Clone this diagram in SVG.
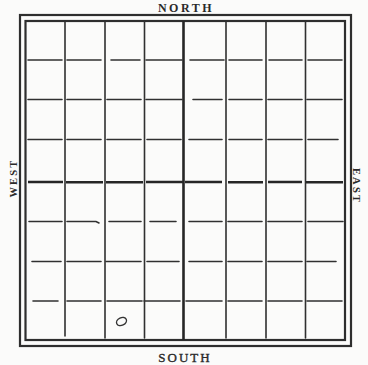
<svg xmlns="http://www.w3.org/2000/svg" width="368" height="365" viewBox="0 0 368 365">
<style>
.bg{fill:#fbfbfa}
.frame{fill:none;stroke:#2e2e2e;stroke-width:2.2}
.grid{stroke:#303030;stroke-width:1.6;stroke-linecap:round;fill:none}
.thick{stroke:#262626;stroke-width:2.6;fill:none}
.lbl{font-family:"Liberation Serif","DejaVu Serif",serif;fill:#2a2a2a}
.mark{fill:none;stroke:#333;stroke-width:1.4}
</style>
<rect class="bg" x="0" y="0" width="368" height="365"/>
<g id="board">
<rect class="frame" x="20" y="15" width="331" height="331"/>
<rect class="frame" x="25.5" y="21" width="319.5" height="319"/>
</g>
<g id="grid">
<path class="grid" d="M65 22V336M105 22V338M144.5 22V338M226 22V338M266 22V338M305.5 22V338"/>
<path class="thick" d="M183.5 21V340"/>
<path class="thick" d="M28 182H63M66 182.3H103M106 182.2H143M146 182H183M185 182H222M228 182.2H263M268 182H302M306 182.3H343"/>
<path class="grid" d="M28 60H62M67 60H101M111 60H140M146 60H182M190 60H224M229 60H262M269 60H302M308 60H342"/>
<path class="grid" d="M28 99.5H62M67 99.5H101M107 99.5H141M146 99.5H182M193 99.5H222M229 99.5H262M268 99.5H302M307 99.5H342"/>
<path class="grid" d="M28 139.5H62M67 139.5H101M107 139.5H141M147 139.5H181M189 139.5H222M229 139.5H262M268 139.5H302M308 139.5H338"/>
<path class="grid" d="M29 221.5H62M67 221.5H96L99 223M109 221.5H141M150 221.5H176M189 221.5H222M228 221.5H262M268 221.5H302M308 221.5H343"/>
<path class="grid" d="M32 261.5H61M67 261.5H101M106 261.5H141M147 261.5H179M189 261.5H222M228 261.5H262M268 261.5H302M307 261.5H336"/>
<path class="grid" d="M33 301H58M67 301H101M107 301H142M144 301H180M186 301H222M228 301H262M268 301H302M307 301H342"/>
</g>
<g id="labels">
<text class="lbl" x="186" y="11.5" font-size="12" font-weight="bold" letter-spacing="2.5" text-anchor="middle">NORTH</text>
<text class="lbl" x="185" y="361.5" font-size="13" letter-spacing="2" stroke="#2a2a2a" stroke-width="0.35" text-anchor="middle">SOUTH</text>
<text class="lbl" transform="translate(17 178) rotate(-90)" font-size="10.5" font-weight="bold" letter-spacing="2.2" text-anchor="middle">WEST</text>
<text class="lbl" transform="translate(353 186) rotate(90)" font-size="10.5" font-weight="bold" letter-spacing="2.2" text-anchor="middle">EAST</text>
</g>
<g id="marker">
<ellipse class="mark" cx="121.5" cy="321.5" rx="5.2" ry="3.8" transform="rotate(-25 121.5 321.5)"/>
</g>
</svg>
